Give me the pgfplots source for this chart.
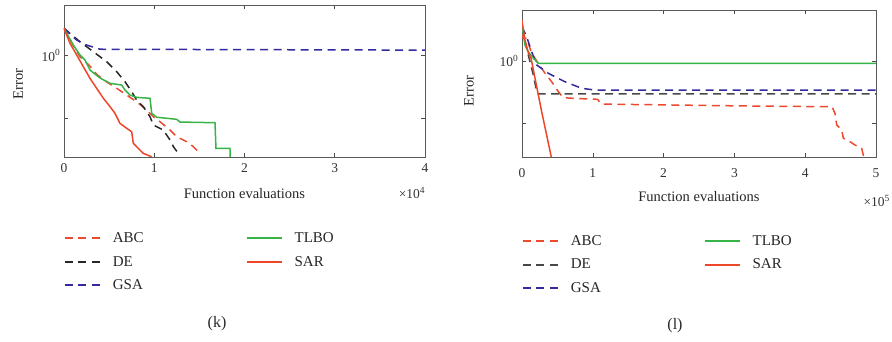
\documentclass[border=0pt]{standalone}
\usepackage{fontspec}
\setmainfont{Liberation Serif}
\usepackage{pgfplots}
\pgfplotsset{compat=1.18}
\definecolor{cABC}{RGB}{236,74,48}
\definecolor{cDE}{RGB}{40,40,40}
\definecolor{cGSA}{RGB}{52,42,160}
\definecolor{cTLBO}{RGB}{55,180,70}
\definecolor{cSAR}{RGB}{238,70,40}
\tikzset{
  dashline/.style={line width=1.5pt, dash pattern=on 8pt off 5.5pt},
  solidline/.style={line width=1.5pt},
}
\pgfplotsset{
  legend image code/.code={\draw[#1, line width=1.9pt] (0pt,0pt) -- (35pt,0pt);},
  every axis/.append style={
    scale only axis, ymode=log,
    axis line style={draw=black!65, line width=0.8pt},
    tick style={black!70, line width=0.6pt},
    tick align=inside, major tick length=4pt,
    ytick={0.1,1}, yticklabels={{},10\textsuperscript{0}},
    yminorticks=false,
    /pgf/number format/assume math mode=true,
    tick label style={font=\fontsize{13.5}{15}\selectfont, text=black!80},
    label style={font=\fontsize{14.5}{17}\selectfont, text=black!85},
    xlabel={Function evaluations}, ylabel={Error},
    legend cell align=left,
    legend style={draw=none, fill=none, inner sep=0pt, outer sep=0pt,
      font=\fontsize{15}{17}\selectfont, text=black!85, row sep=8pt,
      /tikz/every odd column/.append style={column sep=10pt},
      /tikz/every even column/.append style={column sep=100pt}},
    legend columns=3, transpose legend,
  }
}
\begin{document}
\begin{tikzpicture}[x=1pt,y=1pt]
\useasboundingbox (0,0) rectangle (892,342);
% ---------- (k) ----------
\begin{axis}[
  at={(64pt,185pt)}, anchor=south west,
  width=361pt, height=152pt,
  xmin=0, xmax=4, ymin=0.0238, ymax=6.43,
  xtick={0,1,2,3,4},
  xticklabel style={yshift=-3pt},
  xlabel style={at={(axis description cs:0.5,-0.243)}, anchor=center},
  ylabel style={at={(axis description cs:-0.127,0.48)}, anchor=center},
  legend style={at={(axis description cs:0,-0.485)}, anchor=north west},
]
\addplot[cABC, dashline] coordinates {(0,2.72) (0.089,1.57) (0.177,0.957) (0.196,0.902) (0.288,0.676) (0.362,0.50) (0.47,0.380) (0.584,0.299) (0.695,0.233) (0.805,0.182) (0.916,0.134) (0.99,0.105) (1.064,0.0873) (1.175,0.0643) (1.249,0.0501) (1.36,0.0418) (1.433,0.0348) (1.507,0.0272)};
\addlegendentry{ABC}
\addplot[cDE, dashline] coordinates {(0,2.72) (0.177,1.66) (0.325,1.15) (0.473,0.796) (0.584,0.551) (0.676,0.381) (0.750,0.264) (0.805,0.194) (0.879,0.152) (0.953,0.105) (0.990,0.0773) (1.10,0.0643) (1.175,0.0445) (1.212,0.0348) (1.267,0.0272)};
\addlegendentry{DE}
\addplot[cGSA, dashline] coordinates {(0,2.72) (0.14,1.77) (0.25,1.47) (0.40,1.26) (4,1.22)};
\addlegendentry{GSA}
\addplot[cTLBO, solidline] coordinates {(0,2.72) (0.103,1.47) (0.177,1.02) (0.233,0.847) (0.288,0.586) (0.399,0.437) (0.51,0.359) (0.639,0.337) (0.676,0.281) (0.731,0.233) (0.806,0.214) (0.953,0.207) (0.972,0.119) (1.027,0.103) (1.249,0.0953) (1.285,0.0863) (1.673,0.0841) (1.684,0.0327) (1.839,0.0327) (1.847,0.0126)};
\addlegendentry{TLBO}
\addplot[cSAR, solidline] coordinates {(0,2.72) (0.066,1.57) (0.141,1.02) (0.214,0.662) (0.288,0.432) (0.362,0.299) (0.436,0.207) (0.51,0.152) (0.565,0.119) (0.62,0.0822) (0.695,0.0684) (0.75,0.0604) (0.768,0.0394) (0.823,0.0327) (0.879,0.0272) (0.972,0.0240)};
\addlegendentry{SAR}
\end{axis}
\node[font=\fontsize{13.5}{15}\selectfont, text=black!80] at (412,149) {×10\textsuperscript{4}};
\node[font=\fontsize{16}{18}\selectfont, text=black!85] at (217,18) {(k)};
% ---------- (l) ----------
\begin{axis}[
  at={(522pt,185pt)}, anchor=south west,
  width=354pt, height=147pt,
  xmin=0, xmax=5, ymin=0.0283, ymax=6.65,
  xtick={0,1,2,3,4,5},
  xticklabel style={yshift=-8pt},
  xlabel style={at={(axis description cs:0.5,-0.272)}, anchor=center},
  ylabel style={at={(axis description cs:-0.150,0.449)}, anchor=center},
  legend style={at={(axis description cs:0,-0.52)}, anchor=north west},
]
\addplot[cABC, dashline] coordinates {(0,4.58) (0.014,2.35) (0.066,2.32) (0.137,1.33) (0.325,0.634) (0.419,0.463) (0.513,0.320) (0.583,0.256) (0.72,0.250) (1.069,0.241) (1.116,0.202) (3.206,0.188) (4.379,0.183) (4.421,0.143) (4.445,0.0929) (4.516,0.0771) (4.539,0.0566) (4.633,0.0499) (4.703,0.0442) (4.798,0.0391) (4.82,0.0305) (4.891,0.0270) (4.939,0.0253)};
\addlegendentry{ABC}
\addplot[cDE!85!white, dashline] coordinates {(0,3.40) (0.089,1.25) (0.16,0.594) (0.208,0.320) (0.23,0.294) (5,0.294)};
\addlegendentry{DE}
\addplot[cGSA, dashline] coordinates {(0,3.57) (0.066,2.47) (0.137,1.41) (0.208,0.861) (0.371,0.634) (0.607,0.463) (0.843,0.363) (1.031,0.340) (5,0.340)};
\addlegendentry{GSA}
\addplot[cTLBO, solidline] coordinates {(0,3.81) (0.042,1.81) (0.089,1.41) (0.16,1.11) (0.23,0.918) (5,0.918)};
\addlegendentry{TLBO}
\addplot[cSAR, solidline] coordinates {(0,4.31) (0.042,2.18) (0.085,1.40) (0.127,1.12) (0.278,0.152) (0.44,0.0204)};
\addlegendentry{SAR}
\end{axis}
\node[font=\fontsize{13.5}{15}\selectfont, text=black!80, anchor=west] at (860,141) {×10\textsuperscript{5}};
\node[font=\fontsize{16}{18}\selectfont, text=black!85] at (675,16) {(l)};
\end{tikzpicture}
\end{document}
